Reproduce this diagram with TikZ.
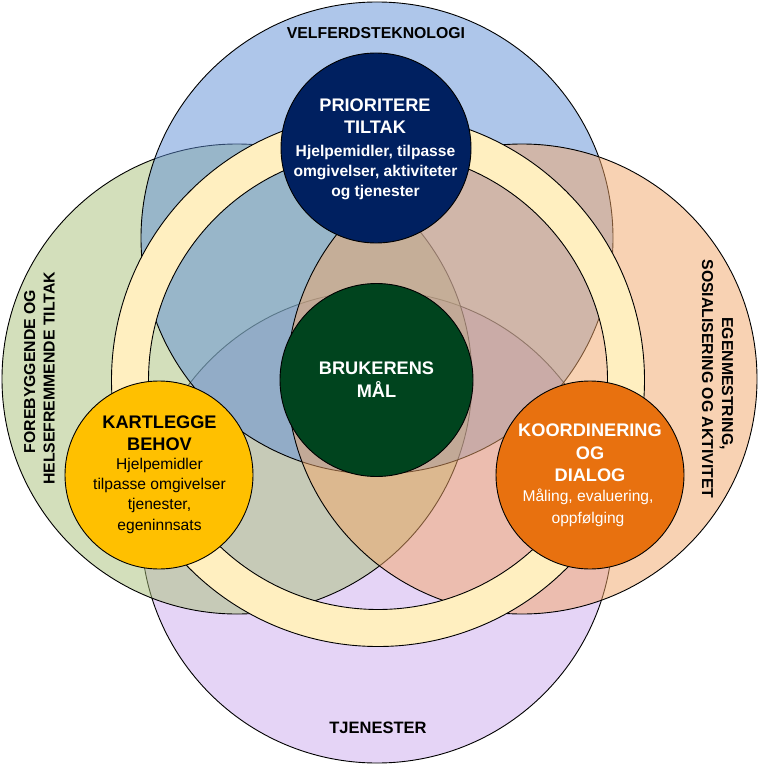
\documentclass[tikz,border=0pt]{standalone}
\usepackage{fontspec}
\setmainfont{Liberation Sans}
\definecolor{cblue}{RGB}{95,143,215}
\definecolor{cgreen}{RGB}{169,193,121}
\definecolor{corange}{RGB}{243,167,105}
\definecolor{cpurple}{RGB}{205,171,239}
\definecolor{cring}{RGB}{255,239,192}
\definecolor{cnavy}{RGB}{0,32,96}
\definecolor{cdkgreen}{RGB}{0,68,30}
\definecolor{cgold}{RGB}{255,192,0}
\definecolor{cdkorange}{RGB}{232,113,15}
\begin{document}
\begin{tikzpicture}[x=1pt,y=-1pt,
  outline/.style={draw=black,line width=0.9pt},
  bigc/.style={outline,fill opacity=0.5},
  smallc/.style={outline},
  lbl/.style={font=\fontsize{15.8}{19}\selectfont\bfseries,inner sep=0pt,anchor=base},
  head/.style={font=\fontsize{18.2}{22}\selectfont\bfseries,inner sep=0pt,anchor=base},
  subb/.style={font=\fontsize{15.6}{20}\selectfont\bfseries,inner sep=0pt,anchor=base},
  subr/.style={font=\fontsize{15.6}{20}\selectfont,inner sep=0pt,anchor=base}]
\useasboundingbox (0,0) rectangle (759,765);
\fill[white] (0,0) rectangle (759,765);
% big translucent circles
\path[bigc,fill=cpurple] (377,527) circle (236);
\path[bigc,fill=cgreen] (237,379) circle (235);
\path[bigc,fill=cblue] (377,238) circle (236);
\path[bigc,fill=corange] (522,379) circle (235);
% ring
\fill[cring,even odd rule] (378,380) circle (266.5) (378,380) circle (229.5);
\draw[outline] (378,380) circle (266.5);
\draw[outline] (378,380) circle (229.5);
% small circles
\path[smallc,fill=cnavy] (376,148) circle (95);
\path[smallc,fill=cdkgreen] (376.5,380) circle (96.5);
\path[smallc,fill=cgold] (159,475) circle (94);
\path[smallc,fill=cdkorange] (590,475) circle (94);
% outer labels
\node[lbl] (velf) at (376,39) {VELFERDSTEKNOLOGI};
\node[lbl,font=\fontsize{16.5}{19}\selectfont\bfseries] (tjen) at (378,733.3) {TJENESTER};
\node[lbl,rotate=90] (fore1) at (35,371.5) {FOREBYGGENDE OG};
\node[lbl,rotate=90] (fore2) at (54.5,378.5) {HELSEFREMMENDE TILTAK};
\node[lbl,rotate=-90] (egen1) at (722,383.5) {EGENMESTRING,};
\node[lbl,rotate=-90] (egen2) at (702,379) {SOSIALISERING OG AKTIVITET};
% prioritere
\node[head,white] (pri1) at (375,112) {PRIORITERE};
\node[head,white] (pri2) at (375,134) {TILTAK};
\node[subb,white] (pri3) at (375.5,156) {Hjelpemidler, tilpasse};
\node[subb,white] (pri4) at (375.5,176) {omgivelser, aktiviteter};
\node[subb,white] (pri5) at (375.5,196) {og tjenester};
% brukerens
\node[head,white] (bru1) at (376.5,374) {BRUKERENS};
\node[head,white] (bru2) at (376.5,397) {MÅL};
% kartlegge
\node[head,black] (kar1) at (159.5,428.3) {KARTLEGGE};
\node[head,black] (kar2) at (159.5,450) {BEHOV};
\node[subr,black] (kar3) at (159.5,469.5) {Hjelpemidler};
\node[subr,black] (kar4) at (159.5,489.5) {tilpasse omgivelser};
\node[subr,black] (kar5) at (159.5,509.5) {tjenester,};
\node[subr,black] (kar6) at (159.5,530) {egeninnsats};
% koordinering
\node[head,white] (koo1) at (590,436.7) {KOORDINERING};
\node[head,white] (koo2) at (590,459.3) {OG};
\node[head,white] (koo3) at (590,481.7) {DIALOG};
\node[subr,white] (koo4) at (588,501.5) {Måling, evaluering,};
\node[subr,white] (koo5) at (588,523) {oppfølging};
\end{tikzpicture}
\end{document}
